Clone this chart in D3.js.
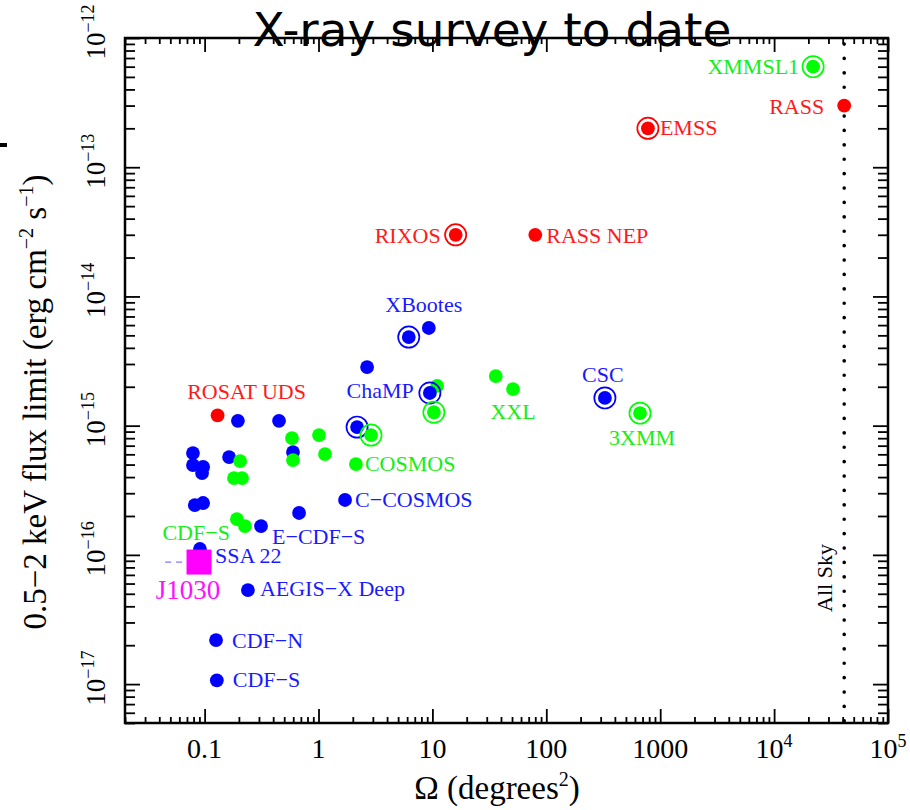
<!DOCTYPE html>
<html><head><meta charset="utf-8">
<script src="https://cdn.jsdelivr.net/npm/d3@7"></script>
<style>
body{margin:0;background:#fff}
svg{display:block}
text{font-family:"Liberation Serif","Times New Roman",serif}
text.title{font-family:"DejaVu Sans",sans-serif}
</style></head><body>
<svg id="chart" width="910" height="810"></svg>
<script>
// Sky coverage (deg^2) against 0.5-2 keV flux limit (erg cm^-2 s^-1) of X-ray surveys.
const redSurveys = [
  {name:"RASS", area:41253, flux:3e-13},
  {name:"EMSS", area:780, flux:2e-13, ring:true},
  {name:"RIXOS", area:16, flux:3e-14, ring:true},
  {name:"RASS NEP", area:80, flux:3e-14},
  {name:"ROSAT UDS", area:0.13, flux:1.2e-15}
];
const blueSurveys = [
  {name:"XBootes", area:6.2, flux:4.85e-15, ring:true},
  {area:9.3, flux:5.7e-15},
  {area:2.67, flux:2.84e-15},
  {name:"ChaMP", area:9.5, flux:1.79e-15, ring:true},
  {name:"CSC", area:327, flux:1.64e-15, ring:true},
  {area:2.18, flux:9.75e-16, ring:true},
  {area:0.196, flux:1.09e-15},
  {area:0.45, flux:1.09e-15},
  {area:0.597, flux:6.25e-16},
  {area:0.164, flux:5.71e-16},
  {area:0.079, flux:6.14e-16},
  {area:0.079, flux:4.95e-16},
  {area:0.097, flux:4.79e-16},
  {area:0.095, flux:4.3e-16},
  {area:0.082, flux:2.43e-16},
  {area:0.097, flux:2.52e-16},
  {name:"C−COSMOS", area:1.71, flux:2.66e-16},
  {area:0.675, flux:2.11e-16},
  {name:"E−CDF−S", area:0.313, flux:1.67e-16},
  {name:"SSA 22", area:0.091, flux:1.11e-16},
  {name:"AEGIS−X Deep", area:0.24, flux:5.34e-17},
  {name:"CDF−N", area:0.126, flux:2.19e-17},
  {name:"CDF−S", area:0.128, flux:1.07e-17}
];
const greenSurveys = [
  {name:"XMMSL1", area:22000, flux:6e-13, ring:true},
  {area:36, flux:2.42e-15},
  {name:"XXL", area:51, flux:1.92e-15},
  {name:"3XMM", area:665, flux:1.25e-15, ring:true},
  {name:"COSMOS", area:2.13, flux:5.04e-16},
  {area:2.89, flux:8.46e-16, ring:true},
  {area:11.0, flux:2.03e-15},
  {area:10.3, flux:1.27e-15, ring:true},
  {area:0.585, flux:8.02e-16},
  {area:1.01, flux:8.46e-16},
  {area:1.14, flux:6.03e-16},
  {area:0.597, flux:5.42e-16},
  {area:0.205, flux:5.32e-16},
  {area:0.181, flux:3.93e-16},
  {area:0.213, flux:3.93e-16},
  {name:"CDF−S", area:0.192, flux:1.89e-16},
  {area:0.226, flux:1.67e-16}
];
const j1030 = {name:"J1030", area:0.0893, flux:8.8e-17};
const j1030Lead = [0.045, 0.0893];   // dashed lead-in at the J1030 flux
const allSkyArea = 41253;

const xTickLabels = ["0.1","1","10","100","1000",["10","4"],["10","5"]];
const xTickValues = [0.1,1,10,100,1000,1e4,1e5];
const yTickValues = [1e-17,1e-16,1e-15,1e-14,1e-13,1e-12];
const yTickLabels = [["10","−17"],["10","−16"],["10","−15"],["10","−14"],["10","−13"],["10","−12"]];

// label placement around each point: [text-anchor, dx, dy] in px
const labelPlacement = {
  "red:RASS":["end",-20,8], "red:EMSS":["start",12,7], "red:RIXOS":["end",-15,8],
  "red:RASS NEP":["start",11,8], "red:ROSAT UDS":["middle",29,-16],
  "blue:XBootes":["middle",15,-25], "blue:ChaMP":["end",-16,5], "blue:CSC":["middle",-2,-16],
  "blue:C−COSMOS":["start",10,7], "blue:E−CDF−S":["start",11,18], "blue:SSA 22":["start",15,14],
  "blue:AEGIS−X Deep":["start",12,6], "blue:CDF−N":["start",16,8], "blue:CDF−S":["start",16,7],
  "green:XMMSL1":["end",-14,7], "green:XXL":["middle",0,30], "green:3XMM":["middle",2,32],
  "green:COSMOS":["start",9,7], "green:CDF−S":["end",-7,21],
  "magenta:J1030":["middle",-11,37]
};

const colors = {red:"#ff0000", blue:"#0000ff", green:"#00ff00", magenta:"#ff00ff"};
const labelColors = {red:"#ff1a1a", blue:"#1a1aff", green:"#14ee14", magenta:"#ff10ff"};

const L = 125, R = 888, T = 38, B = 723;
const svg = d3.select("#chart");
svg.append("rect").attr("width",910).attr("height",810).attr("fill","#fff");

const x = d3.scaleLog().domain([0.02, 1e5]).range([L, R]);
const y = d3.scaleLog().domain([5e-18, 1e-12]).range([B, T]);

const isMajor = v => Math.abs(Math.log10(v) - Math.round(Math.log10(v))) < 1e-9;
const xMajor = x.ticks().filter(isMajor), xMinor = x.ticks().filter(v => !isMajor(v));
const yMajor = y.ticks().filter(isMajor), yMinor = y.ticks().filter(v => !isMajor(v));

function tickAxis(axis, tr){
  const g = svg.append("g").attr("transform", tr).call(axis);
  g.select(".domain").remove();
  g.selectAll("line").attr("stroke","#000").attr("stroke-width",1.8);
  g.selectAll("text").remove();
}
tickAxis(d3.axisBottom(x).tickValues(xMajor).tickSize(-14).tickSizeOuter(0), `translate(0,${B})`);
tickAxis(d3.axisBottom(x).tickValues(xMinor).tickSize(-6).tickSizeOuter(0), `translate(0,${B})`);
tickAxis(d3.axisTop(x).tickValues(xMajor).tickSize(-14).tickSizeOuter(0), `translate(0,${T})`);
tickAxis(d3.axisTop(x).tickValues(xMinor).tickSize(-6).tickSizeOuter(0), `translate(0,${T})`);
tickAxis(d3.axisLeft(y).tickValues(yMajor).tickSize(-15).tickSizeOuter(0), `translate(${L},0)`);
tickAxis(d3.axisLeft(y).tickValues(yMinor).tickSize(-10).tickSizeOuter(0), `translate(${L},0)`);
tickAxis(d3.axisRight(y).tickValues(yMajor).tickSize(-15).tickSizeOuter(0), `translate(${R},0)`);
tickAxis(d3.axisRight(y).tickValues(yMinor).tickSize(-10).tickSizeOuter(0), `translate(${R},0)`);

// frame
svg.append("rect").attr("x",L).attr("y",T).attr("width",R-L).attr("height",B-T)
  .attr("fill","none").attr("stroke","#000").attr("stroke-width",2.5);

// x tick labels
xTickValues.forEach((v,i) => {
  const lab = xTickLabels[i];
  const t = svg.append("text").attr("x", x(v)).attr("y", 758)
    .attr("text-anchor","middle").attr("font-size",28).attr("fill","#000");
  if (Array.isArray(lab)) {
    t.append("tspan").text(lab[0]);
    t.append("tspan").attr("dy",-11).attr("font-size",18).text(lab[1]);
  } else t.text(lab);
});
// y tick labels (rotated)
yTickValues.forEach((v,i) => {
  const lab = yTickLabels[i];
  const t = svg.append("text").attr("transform",`translate(105,${y(v)-6}) rotate(-90)`)
    .attr("text-anchor","middle").attr("font-size",27).attr("fill","#000");
  t.append("tspan").text(lab[0]);
  t.append("tspan").attr("dy",-11).attr("font-size",18).text(lab[1]);
});

// axis titles
const xt = svg.append("text").attr("x",497).attr("y",799).attr("text-anchor","middle")
  .attr("font-size",33).attr("fill","#000");
xt.append("tspan").text("Ω (degrees");
xt.append("tspan").attr("dy",-13).attr("font-size",20).text("2");
xt.append("tspan").attr("dy",13).text(")");

const yt = svg.append("text").attr("transform","translate(46,402) rotate(-90)")
  .attr("text-anchor","middle").attr("font-size",33).attr("fill","#000");
yt.append("tspan").text("0.5−2 keV flux limit (erg cm");
yt.append("tspan").attr("dy",-13).attr("font-size",20).text("−2");
yt.append("tspan").attr("dy",13).text(" s");
yt.append("tspan").attr("dy",-13).attr("font-size",20).text("−1");
yt.append("tspan").attr("dy",13).text(")");

// all-sky limit
svg.append("line").attr("x1",x(allSkyArea)).attr("x2",x(allSkyArea))
  .attr("y1",T+6).attr("y2",B-2).attr("stroke","#000").attr("stroke-width",3.6)
  .attr("stroke-linecap","round").attr("stroke-dasharray","0.1 14.3");
svg.append("text").attr("transform",`translate(${x(allSkyArea)-12},578) rotate(-90)`)
  .attr("text-anchor","middle").attr("font-size",22).attr("fill","#000").text("All Sky");

// points
const groups = [["red",redSurveys],["blue",blueSurveys],["green",greenSurveys]];
const dotR = 6.9, ringR = 10.6;
groups.forEach(([key, data]) => {
  svg.append("g").selectAll("circle").data(data.filter(d => !d.ring)).join("circle")
    .attr("cx", d => x(d.area)).attr("cy", d => y(d.flux)).attr("r", dotR).attr("fill", colors[key]);
});
groups.forEach(([key, data]) => {
  const g = svg.append("g").selectAll("g").data(data.filter(d => d.ring)).join("g")
    .attr("transform", d => `translate(${x(d.area)},${y(d.flux)})`);
  g.append("circle").attr("r", ringR).attr("fill","none").attr("stroke", colors[key]).attr("stroke-width",1.7);
  g.append("circle").attr("r", dotR).attr("fill", colors[key]);
});

// J1030 field
svg.append("line").attr("x1",x(j1030Lead[0])).attr("x2",x(j1030Lead[1]))
  .attr("y1",y(j1030.flux)).attr("y2",y(j1030.flux))
  .attr("stroke","#7b7bff").attr("stroke-width",1.2).attr("stroke-dasharray","6 5");
svg.append("rect").attr("x",x(j1030.area)-12.5).attr("y",y(j1030.flux)-12.5)
  .attr("width",25).attr("height",25).attr("fill",colors.magenta);

// labels
const labelled = [];
groups.forEach(([key, data]) => data.filter(d => d.name).forEach(d => labelled.push({key, d})));
labelled.push({key:"magenta", d:j1030});
labelled.forEach(({key, d}) => {
  const p = labelPlacement[key + ":" + d.name];
  if (!p) return;
  svg.append("text").attr("x", x(d.area) + p[1]).attr("y", y(d.flux) + p[2])
    .attr("text-anchor", p[0]).attr("font-size", key === "magenta" ? 27 : 22)
    .attr("fill", labelColors[key]).text(d.name);
});

// title, drawn over the frame
svg.append("text").attr("class","title").attr("x",492).attr("y",46).attr("text-anchor","middle")
  .attr("font-size",47).attr("fill","#000")
  .text("X-ray survey to date");
// small mark at the left edge
svg.append("rect").attr("x",0).attr("y",143).attr("width",7).attr("height",4).attr("fill","#000");
</script>
</body></html>
